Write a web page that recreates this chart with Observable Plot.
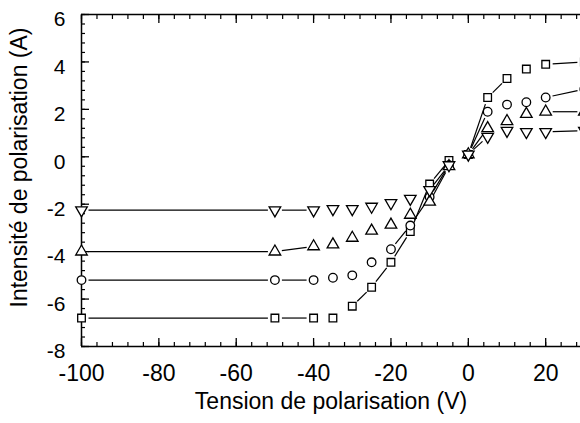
<!DOCTYPE html>
<html>
<head>
<meta charset="utf-8">
<script src="https://cdn.jsdelivr.net/npm/d3@7"></script>
<script src="https://cdn.jsdelivr.net/npm/@observablehq/plot@0.6"></script>
<style>
  html, body { margin: 0; padding: 0; background: #fff; }
  #chart svg { display: block; }
</style>
</head>
<body>
<div id="chart"></div>
<script>
// ---- Data ----
const tension = [-100, -50, -40, -35, -30, -25, -20, -15, -10, -5, 0, 5, 10, 15, 20, 30];
const serieCarres    = [-6.8, -6.8, -6.8, -6.8, -6.3, -5.5, -4.45, -3.15, -1.15, -0.15, 0.1, 2.5, 3.3, 3.7, 3.9, 4.0];
const serieCercles   = [-5.2, -5.2, -5.2, -5.1, -5.0, -4.45, -3.9, -2.9, -1.7, -0.35, 0.1, 1.9, 2.2, 2.3, 2.5, 2.85];
const serieTriHaut   = [-4.0, -4.0, -3.78, -3.7, -3.42, -3.12, -2.87, -2.45, -1.9, -0.4, 0.1, 1.2, 1.5, 1.8, 1.9, 1.9];
const serieTriBas    = [-2.25, -2.25, -2.25, -2.2, -2.2, -2.1, -1.95, -1.77, -1.4, -0.35, 0.1, 0.85, 1.1, 1.05, 1.05, 1.1];

const xTickLabels = [-100, -80, -60, -40, -20, 0, 20];
const yTickLabels = [-8, -6, -4, -2, 0, 2, 4, 6];
const xTitle = "Tension de polarisation (V)";
const yTitle = "Intensité de polarisation (A)";

// ---- Layout ----
const W = 580, H = 423;
const mL = 81, mR = 0, mT = 14, mB = 77;
const xDomain = [-100, 29];
const yDomain = [-8, 6];
const xMinor = d3.range(-100, 29, 4);
const yMinor = d3.range(0, 36).map(i => +(-8 + i * 0.4).toFixed(2));

// Down-pointing triangle symbol
const sqrt3 = Math.sqrt(3);
const triangleDown = {
  draw(context, size) {
    const y = -Math.sqrt(size / (sqrt3 * 3));
    context.moveTo(0, -y * 2);
    context.lineTo(-sqrt3 * y, y);
    context.lineTo(sqrt3 * y, y);
    context.closePath();
  }
};

const series = [
  {values: serieCarres, symbol: "square"},
  {values: serieCercles, symbol: "circle"},
  {values: serieTriHaut, symbol: "triangle"},
  {values: serieTriBas, symbol: triangleDown}
];

// scales to decide which connecting segments are long enough to show
const sx = Plot.scale({x: {domain: xDomain, range: [mL, W - mR]}});
const sy = Plot.scale({y: {domain: yDomain, range: [H - mB, mT]}});

const segments = [];
series.forEach((s, k) => {
  for (let i = 0; i < tension.length - 1; i++) {
    const dx = sx.apply(tension[i + 1]) - sx.apply(tension[i]);
    const dy = sy.apply(s.values[i + 1]) - sy.apply(s.values[i]);
    if (Math.hypot(dx, dy) > 24) {
      segments.push({x1: tension[i], y1: s.values[i], x2: tension[i + 1], y2: s.values[i + 1], k});
    }
  }
});

const font = "'Liberation Sans', Arial, Helvetica, sans-serif";
const fmt = d => String(d);

const marks = [
  // frame lines (left, bottom, top)
  Plot.ruleY([yDomain[0], yDomain[1]], {stroke: "#000", strokeWidth: 1.5}),
  Plot.ruleX([xDomain[0]], {stroke: "#000", strokeWidth: 1.5}),

  // bottom ticks (inward)
  Plot.axisX({anchor: "bottom", ticks: xMinor, tickSize: 4, dy: -4, fill: "none", label: null, stroke: "#000", strokeWidth: 1.2}),
  Plot.axisX({anchor: "bottom", ticks: xTickLabels, tickSize: 8, dy: -8, fill: "none", label: null, stroke: "#000", strokeWidth: 1.3}),
  // top ticks (inward)
  Plot.axisX({anchor: "top", ticks: xMinor, tickSize: 4, dy: 4, fill: "none", label: null, stroke: "#000", strokeWidth: 1.2}),
  Plot.axisX({anchor: "top", ticks: xTickLabels, tickSize: 8, dy: 8, fill: "none", label: null, stroke: "#000", strokeWidth: 1.3}),
  // left ticks (inward)
  Plot.axisY({anchor: "left", ticks: yMinor, tickSize: 4, dx: 4, fill: "none", label: null, stroke: "#000", strokeWidth: 1.2}),
  Plot.axisY({anchor: "left", ticks: yTickLabels, tickSize: 8, dx: 8, fill: "none", label: null, stroke: "#000", strokeWidth: 1.3}),

  // tick labels
  Plot.axisX({anchor: "bottom", ticks: xTickLabels, tickSize: 0, tickPadding: 18, tickFormat: fmt, label: null, fontSize: 23, fill: "#000", lineAnchor: "top"}),
  Plot.axisY({anchor: "left", ticks: yTickLabels, tickSize: 0, tickPadding: 16, dy: 5, tickFormat: fmt, label: null, fontSize: 21, fill: "#000"}),

  // connecting lines
  Plot.arrow(segments, {x1: "x1", y1: "y1", x2: "x2", y2: "y2", headLength: 0, insetStart: 7, insetEnd: 7, stroke: "#000", strokeWidth: 1.2, strokeLinecap: "butt"}),

  // markers
  ...series.map(s => Plot.dot(tension, {
    x: (d) => d,
    y: (d, i) => s.values[i],
    symbol: s.symbol,
    r: 4.3,
    fill: "#fff",
    stroke: "#000",
    strokeWidth: 1.3
  })),

  // axis titles
  Plot.text([xTitle], {frameAnchor: "bottom", dy: 55, fontSize: 23, fill: "#000", textAnchor: "middle", lineAnchor: "middle"}),
  Plot.text([yTitle], {frameAnchor: "left", rotate: -90, dx: -62, dy: -13, fontSize: 23, fill: "#000", textAnchor: "middle", lineAnchor: "middle"})
];

const chart = Plot.plot({
  width: W,
  height: H,
  marginLeft: mL,
  marginRight: mR,
  marginTop: mT,
  marginBottom: mB,
  style: {fontFamily: font, background: "#fff", color: "#000", overflow: "visible"},
  x: {domain: xDomain, range: [mL, W - mR]},
  y: {domain: yDomain, range: [H - mB, mT]},
  marks
});
document.getElementById("chart").appendChild(chart);
</script>
</body>
</html>
